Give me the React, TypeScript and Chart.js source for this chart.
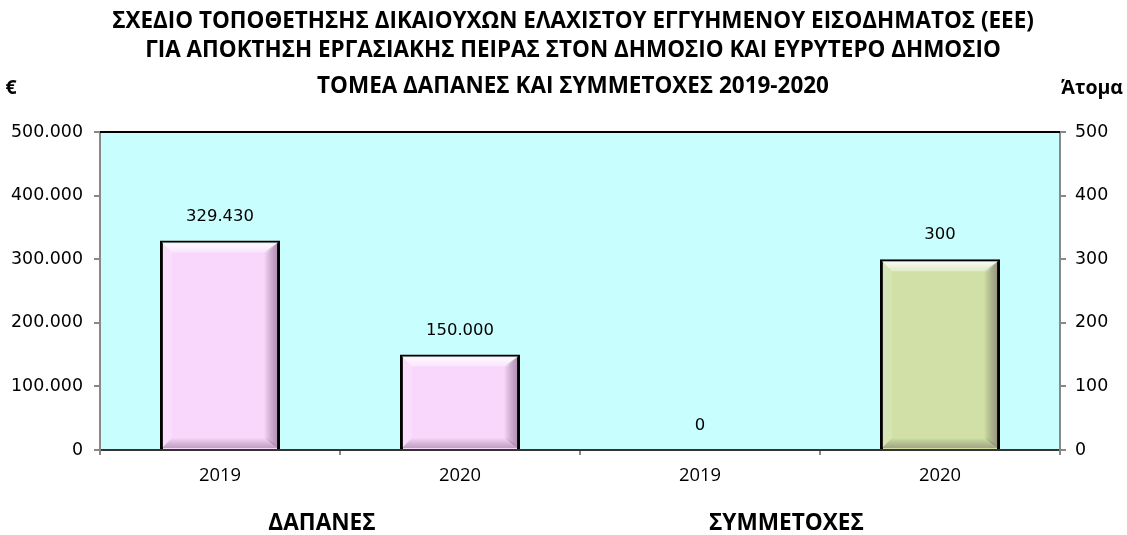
import React, { useEffect, useRef } from "react";
import { Chart, registerables } from "chart.js";

Chart.register(...registerables);

const titleLines = [
  "ΣΧΕΔΙΟ ΤΟΠΟΘΕΤΗΣΗΣ ΔΙΚΑΙΟΥΧΩΝ ΕΛΑΧΙΣΤΟΥ ΕΓΓΥΗΜΕΝΟΥ ΕΙΣΟΔΗΜΑΤΟΣ (ΕΕΕ)",
  "ΓΙΑ ΑΠΟΚΤΗΣΗ ΕΡΓΑΣΙΑΚΗΣ ΠΕΙΡΑΣ ΣΤΟΝ ΔΗΜΟΣΙΟ ΚΑΙ ΕΥΡΥΤΕΡΟ ΔΗΜΟΣΙΟ",
  "ΤΟΜΕΑ ΔΑΠΑΝΕΣ ΚΑΙ ΣΥΜΜΕΤΟΧΕΣ 2019-2020",
];
const leftUnit = "€";
const rightUnit = "Άτομα";
const categories = ["2019", "2020", "2019", "2020"];
const groupLabels = ["ΔΑΠΑΝΕΣ", "ΣΥΜΜΕΤΟΧΕΣ"];
const spending = [329430, 150000];
const participants = [0, 300];
const leftMax = 500000;
const leftStep = 100000;
const rightMax = 500;
const rightStep = 100;

const fmt = (n: number) =>
  String(Math.round(n)).replace(/\B(?=(\d{3})+(?!\d))/g, ".");

const W = 1127;
const H = 535;

const TITLE_FONT = "'Open Sans'";
const NUM_FONT = "'DejaVu Sans'";

function fitSize(text: string, family: string, weight: string, target: number) {
  const c = document.createElement("canvas").getContext("2d")!;
  c.font = `${weight} 100px ${family}`;
  const w = c.measureText(text).width;
  return (100 * target) / w;
}

export default function App() {
  const ref = useRef<HTMLCanvasElement>(null);
  useEffect(() => {
    if (!ref.current) return;
    const titleSize = fitSize(titleLines[0], TITLE_FONT, "bold", 922);
    const groupSize = fitSize(groupLabels[1], TITLE_FONT, "bold", 155);
    const unitSize = fitSize(rightUnit, TITLE_FONT, "bold", 62);
    const yTickSize = fitSize("500.000", NUM_FONT, "normal", 72);
    const xTickSize = fitSize("2019", TITLE_FONT, "normal", 42);
    const labelSize = fitSize("329.430", NUM_FONT, "normal", 68);

    const decorPlugin = {
      id: "decor",
      beforeDraw(chart: any) {
        const { ctx, chartArea: a } = chart;
        ctx.save();
        ctx.fillStyle = "#C8FEFE";
        ctx.fillRect(a.left, a.top, a.right - a.left, a.bottom - a.top);
        ctx.restore();
      },
      afterDatasetsDraw(chart: any) {
        const { ctx } = chart;
        ctx.save();
        chart.data.datasets.forEach((ds: any, di: number) => {
          const meta = chart.getDatasetMeta(di);
          meta.data.forEach((el: any, i: number) => {
            const v = ds.data[i];
            if (v === null || v === undefined) return;
            const h = Math.abs(el.base - el.y);
            if (h > 6) {
              const l = el.x - el.width / 2 + 2;
              const r = el.x + el.width / 2 - 2;
              const t = el.y + 2;
              const b = el.base - 1;
              const bv = 10;
              const gt = ctx.createLinearGradient(0, t, 0, t + bv);
              gt.addColorStop(0, "rgba(255,255,255,0.9)");
              gt.addColorStop(1, "rgba(255,255,255,0.35)");
              ctx.fillStyle = gt;
              ctx.beginPath();
              ctx.moveTo(l, t);
              ctx.lineTo(r, t);
              ctx.lineTo(r - bv, t + bv);
              ctx.lineTo(l + bv, t + bv);
              ctx.closePath();
              ctx.fill();
              ctx.fillStyle = "rgba(255,255,255,0.15)";
              ctx.beginPath();
              ctx.moveTo(l, t);
              ctx.lineTo(l + bv, t + bv);
              ctx.lineTo(l + bv, b - bv);
              ctx.lineTo(l, b);
              ctx.closePath();
              ctx.fill();
              const g = ctx.createLinearGradient(r - bv - 4, 0, r, 0);
              g.addColorStop(0, "rgba(0,0,0,0)");
              g.addColorStop(1, "rgba(70,30,70,0.4)");
              ctx.fillStyle = g;
              ctx.beginPath();
              ctx.moveTo(r, t);
              ctx.lineTo(r - bv - 4, t + bv);
              ctx.lineTo(r - bv - 4, b - bv);
              ctx.lineTo(r, b);
              ctx.closePath();
              ctx.fill();
              const gb = ctx.createLinearGradient(0, b - bv, 0, b);
              gb.addColorStop(0, "rgba(0,0,0,0)");
              gb.addColorStop(1, "rgba(70,30,70,0.3)");
              ctx.fillStyle = gb;
              ctx.beginPath();
              ctx.moveTo(l, b);
              ctx.lineTo(l + bv, b - bv);
              ctx.lineTo(r - bv, b - bv);
              ctx.lineTo(r, b);
              ctx.closePath();
              ctx.fill();
            }
            ctx.fillStyle = "#000";
            ctx.font = `${labelSize}px ${NUM_FONT}`;
            ctx.textAlign = "center";
            ctx.textBaseline = "middle";
            ctx.fillText(fmt(v), el.x, el.y - 24);
          });
        });
        ctx.restore();
      },
      afterDraw(chart: any) {
        const { ctx, chartArea: a } = chart;
        const x = chart.scales.x;
        ctx.save();
        ctx.strokeStyle = "#000";
        ctx.lineWidth = 2;
        ctx.beginPath();
        ctx.moveTo(a.left, a.top);
        ctx.lineTo(a.right, a.top);
        ctx.stroke();
        ctx.fillStyle = "#000";
        ctx.textAlign = "center";
        ctx.textBaseline = "middle";
        ctx.font = `bold ${titleSize}px ${TITLE_FONT}`;
        const ys = [22, 51, 87];
        titleLines.forEach((t, i) => ctx.fillText(t, 573, ys[i]));
        ctx.font = `bold ${unitSize}px ${TITLE_FONT}`;
        ctx.fillText(leftUnit, 11, 88);
        ctx.fillText(rightUnit, 1092, 88);
        ctx.font = `bold ${groupSize}px ${TITLE_FONT}`;
        const p0 = x.getPixelForValue(0);
        const p1 = x.getPixelForValue(1);
        const step = p1 - p0;
        ctx.fillText(groupLabels[0], p0 + step * 0.425, 524);
        ctx.fillText(groupLabels[1], p0 + step * 2.36, 524);
        ctx.restore();
      },
    };

    const chart = new Chart(ref.current, {
      type: "bar",
      data: {
        labels: categories,
        datasets: [
          {
            label: "Δαπάνες",
            data: [...spending, null, null],
            yAxisID: "yL",
            backgroundColor: "#F9D6FC",
            borderColor: "#000",
            borderWidth: 3,
            grouped: false,
            barPercentage: 1,
            categoryPercentage: 0.5,
          } as any,
          {
            label: "Συμμετοχές",
            data: [null, null, ...participants],
            yAxisID: "yR",
            backgroundColor: "#D0E0A6",
            borderColor: "#000",
            borderWidth: (c: any) => (c.raw ? 3 : 0),
            grouped: false,
            barPercentage: 1,
            categoryPercentage: 0.5,
          } as any,
        ],
      },
      options: {
        responsive: false,
        animation: false,
        layout: { padding: { top: 132, left: 0, right: 0, bottom: 0 } },
        plugins: {
          legend: { display: false },
          tooltip: { enabled: false },
          title: { display: false },
        },
        scales: {
          x: {
            offset: true,
            grid: {
              offset: true,
              drawOnChartArea: false,
              drawTicks: true,
              tickLength: 5,
              color: "#888",
              lineWidth: 2,
            },
            border: { display: true, color: "#333", width: 2 },
            ticks: {
              color: "#000",
              font: { family: TITLE_FONT, size: xTickSize },
              padding: 10,
            },
            afterFit: (s: any) => {
              s.height = 85;
            },
          },
          yL: {
            position: "left",
            min: 0,
            max: leftMax,
            grid: {
              drawOnChartArea: false,
              tickLength: 6,
              color: "#888",
              lineWidth: 2,
            },
            border: { display: true, color: "#888", width: 2 },
            ticks: {
              stepSize: leftStep,
              color: "#000",
              font: { family: NUM_FONT, size: yTickSize },
              padding: 11,
              callback: (v: any) => fmt(Number(v)),
            },
            afterFit: (s: any) => {
              s.width = 100;
            },
          },
          yR: {
            position: "right",
            min: 0,
            max: rightMax,
            grid: {
              drawOnChartArea: false,
              tickLength: 6,
              color: "#888",
              lineWidth: 2,
            },
            border: { display: true, color: "#888", width: 2 },
            ticks: {
              stepSize: rightStep,
              color: "#000",
              font: { family: NUM_FONT, size: yTickSize },
              padding: 9,
              callback: (v: any) => fmt(Number(v)),
            },
            afterFit: (s: any) => {
              s.width = 67;
            },
          },
        },
      },
      plugins: [decorPlugin],
    });
    return () => chart.destroy();
  }, []);
  return (
    <div style={{ position: "absolute", left: 0, top: 0, width: W, height: H, background: "#fff" }}>
      <canvas ref={ref} width={W} height={H} />
    </div>
  );
}
